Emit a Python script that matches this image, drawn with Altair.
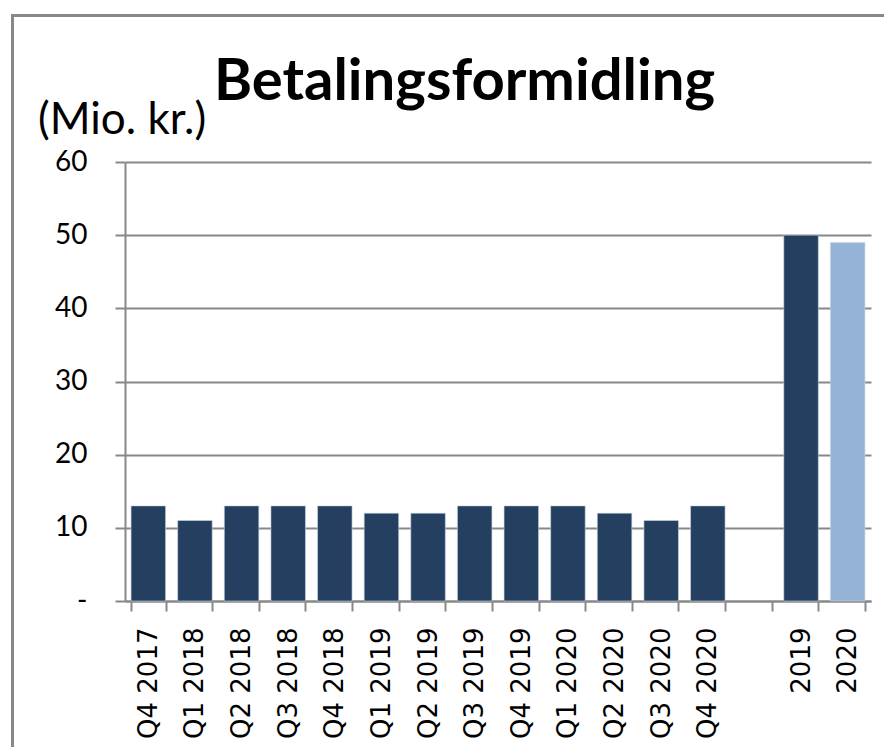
import altair as alt
import pandas as pd

# Data
periods = ["Q4 2017", "Q1 2018", "Q2 2018", "Q3 2018", "Q4 2018",
           "Q1 2019", "Q2 2019", "Q3 2019", "Q4 2019",
           "Q1 2020", "Q2 2020", "Q3 2020", "Q4 2020",
           "2019", "2020"]
values = [13, 11, 13, 13, 13, 12, 12, 13, 13, 13, 12, 11, 13, 50, 49]
axis_order = periods[:13] + [" "] + periods[13:]
y_ticks = [0, 10, 20, 30, 40, 50, 60]
title_text = "Betalingsformidling"
unit_text = "(Mio. kr.)"

DARK = "#253F60"
LIGHT = "#95B3D7"
GRAY = "#888888"

df = pd.DataFrame({"periode": periods, "mio": values})

W, H = 746, 439

bars = alt.Chart(df).mark_bar(stroke="#c9d3e0", strokeWidth=0.6).encode(
    x=alt.X("periode:N", sort=axis_order,
            scale=alt.Scale(domain=axis_order, paddingInner=0.26, paddingOuter=0.13),
            axis=alt.Axis(title=None, labelAngle=270, labelFont="DejaVu Sans",
                          labelFontSize=26, labelColor="black", labelPadding=16,
                          tickBand="extent", tickSize=10, tickWidth=2, tickColor=GRAY,
                          domainColor=GRAY, domainWidth=2, labelBaseline="middle",
                          labelAlign="right")),
    y=alt.Y("mio:Q", scale=alt.Scale(domain=[0, 60], nice=False),
            axis=alt.Axis(title=None, values=y_ticks, grid=True, gridColor=GRAY,
                          gridWidth=2, domainColor=GRAY, domainWidth=2,
                          tickColor=GRAY, tickSize=10, tickWidth=2,
                          labelFont="Lato", labelFontSize=28, labelColor="black",
                          labelPadding=28,
                          labelExpr="datum.value == 0 ? '-' : datum.label")),
    color=alt.condition(alt.datum.periode == "2020", alt.value(LIGHT), alt.value(DARK)),
)

one = pd.DataFrame({"k": [0]})

frame_top = alt.Chart(one).mark_rule(stroke=GRAY, strokeWidth=3).encode(
    x=alt.value(-114), x2=alt.value(780), y=alt.value(-146.5)
)
frame_left = alt.Chart(one).mark_rule(stroke=GRAY, strokeWidth=3).encode(
    x=alt.value(-112.5), y=alt.value(-148), y2=alt.value(640)
)

title = alt.Chart(one).mark_text(font="Lato", fontWeight="bold", fontSize=58,
                                 align="center", baseline="alphabetic", color="black").encode(
    x=alt.value(339.5), y=alt.value(-62), text=alt.value(title_text)
)

unit = alt.Chart(one).mark_text(font="Lato", fontSize=44, align="left",
                                baseline="alphabetic", color="black").encode(
    x=alt.value(-87), y=alt.value(-28), text=alt.value(unit_text)
)

chart = alt.layer(frame_top, frame_left, bars, title, unit).properties(
    width=W, height=H,
    autosize=alt.AutoSizeParams(type="none"),
    padding={"left": 117, "top": 154, "right": 13, "bottom": 146},
).configure(background="white").configure_view(strokeWidth=0, stroke=None)

chart.save("out.html", embed_options={"renderer": "svg", "actions": False})
